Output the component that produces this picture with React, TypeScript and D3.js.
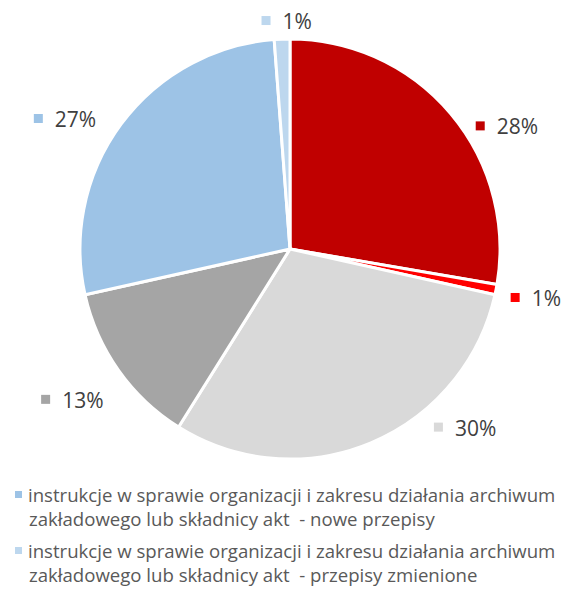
import React from "react";
import * as d3 from "d3";

const categories = [
  "kat. 1",
  "kat. 2",
  "kat. 3",
  "kat. 4",
  "instrukcje w sprawie organizacji i zakresu działania archiwum zakładowego lub składnicy akt  - nowe przepisy",
  "instrukcje w sprawie organizacji i zakresu działania archiwum zakładowego lub składnicy akt  - przepisy zmienione",
];
const values = [27.7, 0.8, 30.4, 12.6, 27.3, 1.2];
const labels = ["28%", "1%", "30%", "13%", "27%", "1%"];
const colors = ["#C00000", "#FF0000", "#D9D9D9", "#A5A5A5", "#9DC3E6", "#BDD7EE"];
const legendLines = [
  ["instrukcje w sprawie organizacji i zakresu działania archiwum", "zakładowego lub składnicy akt  - nowe przepisy"],
  ["instrukcje w sprawie organizacji i zakresu działania archiwum", "zakładowego lub składnicy akt  - przepisy zmienione"],
];
const legendColors = ["#9DC3E6", "#BDD7EE"];

// label placement (angle in degrees from 12 o'clock, radius in px)
const labelPolar = [
  [60.5, 249],
  [101.3, 250],
  [135.6, 250],
  [235.3, 265],
  [300, 260],
  [359, 228],
];

export default function App() {
  const W = 563, H = 590;
  const cx = 290, cy = 249, r = 210;
  const pie = d3.pie<number>().sort(null).value((d) => d)(values);
  const arc = d3.arc<d3.PieArcDatum<number>>().innerRadius(0).outerRadius(r);
  const font = "'Open Sans', sans-serif";
  return (
    <svg width={W} height={H} style={{ position: "absolute", left: 0, top: 0 }}>
      <rect width={W} height={H} fill="#fff" />
      <g transform={`translate(${cx},${cy})`}>
        {pie.map((p, i) => (
          <path key={i} d={arc(p) || ""} fill={colors[i]} stroke="#fff" strokeWidth={3} strokeLinejoin="round" />
        ))}
        {pie.map((p, i) => {
          const a = (labelPolar[i][0] * Math.PI) / 180;
          const rr = labelPolar[i][1];
          const x = rr * Math.sin(a);
          const y = -rr * Math.cos(a);
          const tw = labels[i].length === 2 ? 28 : 41;
          const total = 8 + 13 + tw;
          const x0 = x - total / 2;
          return (
            <g key={i}>
              <rect x={x0} y={y - 5} width={9} height={9} fill={colors[i]} />
              <text x={x0 + 21} y={y + 8} fontFamily={font} fontSize={21} fill="#404040">
                {labels[i]}
              </text>
            </g>
          );
        })}
      </g>
      {legendLines.map((lines, i) => (
        <g key={i} transform={`translate(0,${502 + i * 56})`}>
          <rect x={15} y={-11} width={7} height={7} fill={legendColors[i]} />
          {lines.map((l, j) => (
            <text
              key={j}
              x={j === 0 ? 28 : 29}
              y={j * 24}
              fontFamily={font}
              fontSize={18.6}
              fill="#595959"
              style={{ whiteSpace: "pre" }}
            >
              {l}
            </text>
          ))}
        </g>
      ))}
    </svg>
  );
}
